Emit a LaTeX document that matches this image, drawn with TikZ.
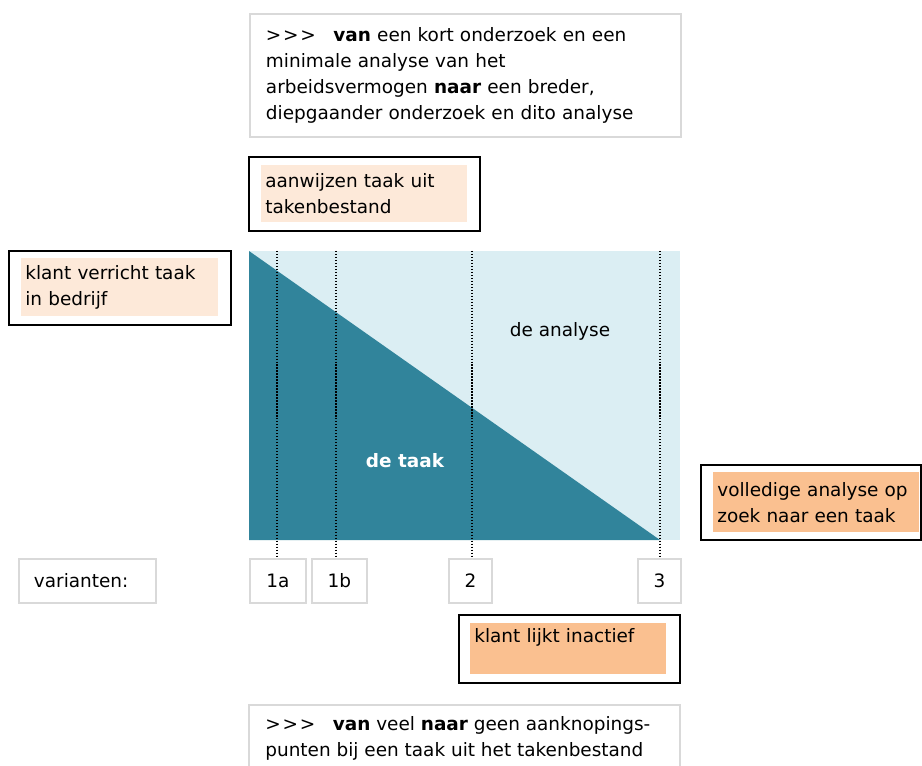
\documentclass[tikz,border=0pt]{standalone}
\usepackage{fontspec}
\setmainfont{DejaVu Sans}
\definecolor{taakblauw}{HTML}{31849B}
\definecolor{analyseblauw}{HTML}{DBEEF3}
\definecolor{lichtoranje}{HTML}{FDE9D9}
\definecolor{oranje}{HTML}{FAC090}
\definecolor{kadergrijs}{HTML}{D9D9D9}
\def\boxfont{\fontsize{10.5}{14.7}\selectfont}
\def\pijlen{>\kern1pt>\kern1pt>\hspace{10pt}}

\begin{document}
\begin{tikzpicture}[x=0.02cm, y=-0.02cm,
	grijs/.style={draw=kadergrijs, line width=1.1pt, font=\boxfont, align=left, inner ysep=0pt},
	kader/.style={draw=black, line width=1pt},
	vlak/.style={font=\boxfont, align=left, anchor=north west, inner xsep=0.08cm, inner ysep=0pt},
	lijn/.style={densely dotted, line width=0.7pt},
	variant/.style={grijs, anchor=north west, minimum height=0.88cm, align=center}]
			%%%%% START %%%%%
			\useasboundingbox (0,0) rectangle (922,766);
			\clip (0,0) rectangle (922,766);
			
			% bovenste tekstvak
			\node[grijs, anchor=north west, minimum width=8.62cm, minimum height=2.46cm, text width=7.98cm, inner xsep=0.32cm] (vankort) at (249,13) {\pijlen\textbf{van} een kort onderzoek en een\\minimale analyse van het\\arbeidsvermogen \textbf{naar} een breder,\\diepgaander onderzoek en dito analyse};
			
			\draw[kader] (249,157) rectangle (480,231);
			\node[vlak, fill=lichtoranje, text width=3.96cm, minimum height=1.14cm] (aanwijzen) at (261,165) {aanwijzen taak uit\\takenbestand};
			
			\draw[kader] (9,251) rectangle (231,325);
			\node[vlak, fill=lichtoranje, text width=3.78cm, minimum height=1.16cm] (verricht) at (21,258) {klant verricht taak\\in bedrijf};
			
			% taak en analyse
			\fill[analyseblauw] (249,251) rectangle (680,540);
			\fill[taakblauw] (249,251) -- (660,540) -- (249,540) -- cycle;
			\node[font=\boxfont] (analyse) at (560,331) {de analyse};
			\node[font=\boxfont\bfseries, text=white] (taak) at (405,461) {de taak};
			
			\draw[kader] (701,465) rectangle (921,540);
			\node[vlak, fill=oranje, text width=3.96cm, minimum height=1.2cm] (volledig) at (713,472) {volledige analyse op\\zoek naar een taak};
			
			% varianten
			\node[variant, minimum width=2.74cm, text width=2.14cm, inner xsep=0.3cm, align=left] (varianten) at (18,558) {varianten:};
			\node[variant, minimum width=1.12cm] (v1a) at (249,558) {1a};
			\node[variant, minimum width=1.1cm] (v1b) at (311,558) {1b};
			\node[variant, minimum width=0.86cm] (v2) at (448,558) {2};
			\node[variant, minimum width=0.86cm] (v3) at (637,558) {3};
			
			\coordinate (t1a) at (277,251);
			\coordinate (t1b) at (336,251);
			\coordinate (t2) at (472,251);
			\coordinate (t3) at (660,251);
			\draw[lijn] (t1a) -- (t1a |- v1a.north);
			\draw[lijn] (t1b) -- (t1b |- v1b.north);
			\draw[lijn] (t2) -- (t2 |- v2.north);
			\draw[lijn] (t3) -- (t3 |- v3.north);
			
			\draw[kader] (459,615) rectangle (680,683);
			\node[vlak, fill=oranje, text width=3.76cm, minimum height=1.02cm] (inactief) at (470,623) {klant lijkt inactief\\\mbox{}};
			
			% onderste tekstvak
			\draw[draw=kadergrijs, line width=1.1pt] (249,705) rectangle (680,790);
			\node[font=\boxfont, align=left, anchor=north west, inner sep=0pt] (veelgeen) at (265,716) {\pijlen\textbf{van} veel \textbf{naar} geen aanknopings-\\punten bij een taak uit het takenbestand};
			%%%%% END %%%%%
\end{tikzpicture}
\end{document}
